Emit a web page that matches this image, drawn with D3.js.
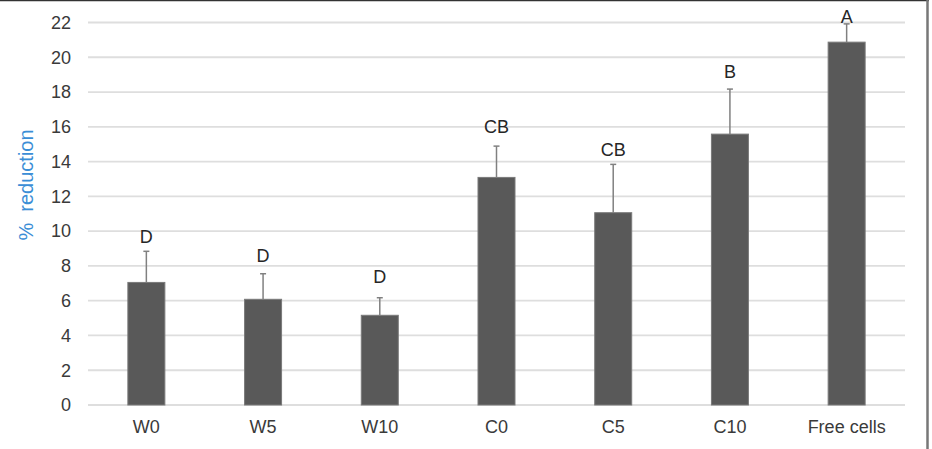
<!DOCTYPE html>
<html>
<head>
<meta charset="utf-8">
<script src="https://cdn.jsdelivr.net/npm/d3@7"></script>
<style>
  html, body { margin: 0; padding: 0; background: #fff; }
  svg { display: block; }
  text { font-family: "Liberation Sans", Arial, sans-serif; }
</style>
</head>
<body>
<div id="chart"></div>
<script>
// data
const categories = ['W0', 'W5', 'W10', 'C0', 'C5', 'C10', 'Free cells'];
const values = [7.05, 6.08, 5.16, 13.09, 11.06, 15.58, 20.87];
const errors = [1.79, 1.47, 1.01, 1.8, 2.78, 2.59, 1.05];
const letters = ['D', 'D', 'D', 'CB', 'CB', 'B', 'A'];
const letterPos = [9.32, 8.25, 7.02, 15.64, 14.32, 18.8, 21.97];
const yTicks = [0, 2, 4, 6, 8, 10, 12, 14, 16, 18, 20, 22];

const width = 932, height = 449;
const svg = d3.select('#chart').append('svg')
    .attr('width', width)
    .attr('height', height);

const x = d3.scaleBand()
    .domain(categories)
    .range([88, 905])
    .paddingInner(0.683)
    .paddingOuter(0.3415);
const y = d3.scaleLinear().domain([0, 22]).range([405, 22.5]);

// gridlines
svg.append('g').selectAll('line')
    .data(yTicks)
    .join('line')
    .attr('x1', 88).attr('x2', 905)
    .attr('y1', d => y(d)).attr('y2', d => y(d))
    .attr('stroke', '#dedede')
    .attr('stroke-width', 1.8);

// y tick labels
svg.append('g').selectAll('text')
    .data(yTicks)
    .join('text')
    .attr('x', 71)
    .attr('y', d => y(d))
    .attr('dy', '0.35em')
    .attr('text-anchor', 'end')
    .attr('font-size', 18)
    .attr('fill', '#3a3a3a')
    .text(d => d);

// bars
const rows = categories.map((c, i) => ({ c, v: values[i], e: errors[i], l: letters[i], lp: letterPos[i] }));
svg.append('g').selectAll('rect')
    .data(rows)
    .join('rect')
    .attr('x', d => x(d.c))
    .attr('y', d => y(d.v))
    .attr('width', x.bandwidth())
    .attr('height', d => y(0) - y(d.v))
    .attr('fill', '#595959')
    .attr('stroke', '#7a7a7a')
    .attr('stroke-width', 1);

// error bars (upper only)
const err = svg.append('g').attr('stroke', '#808080').attr('stroke-width', 1.5);
err.selectAll('.ev')
    .data(rows)
    .join('line')
    .attr('class', 'ev')
    .attr('x1', d => x(d.c) + x.bandwidth() / 2)
    .attr('x2', d => x(d.c) + x.bandwidth() / 2)
    .attr('y1', d => y(d.v))
    .attr('y2', d => y(d.v + d.e));
err.selectAll('.cap')
    .data(rows)
    .join('line')
    .attr('class', 'cap')
    .attr('x1', d => x(d.c) + x.bandwidth() / 2 - 3)
    .attr('x2', d => x(d.c) + x.bandwidth() / 2 + 3)
    .attr('y1', d => y(d.v + d.e))
    .attr('y2', d => y(d.v + d.e));

// letters
svg.append('g').selectAll('text')
    .data(rows)
    .join('text')
    .attr('x', d => x(d.c) + x.bandwidth() / 2)
    .attr('y', d => y(d.lp))
    .attr('text-anchor', 'middle')
    .attr('font-size', 18)
    .attr('fill', '#262626')
    .text(d => d.l);

// x labels
svg.append('g').selectAll('text')
    .data(categories)
    .join('text')
    .attr('x', d => x(d) + x.bandwidth() / 2)
    .attr('y', 433)
    .attr('text-anchor', 'middle')
    .attr('font-size', 18)
    .attr('fill', '#3a3a3a')
    .text(d => d);

// y title
svg.append('text')
    .attr('transform', 'translate(33,185) rotate(-90)')
    .attr('text-anchor', 'middle')
    .attr('font-size', 20)
    .attr('fill', '#3b8ed6')
    .attr('xml:space', 'preserve')
    .style('white-space', 'pre')
    .text('%  reduction');

// frame (top and right edges visible)
svg.append('line').attr('x1', 0).attr('x2', 929).attr('y1', 0.5).attr('y2', 0.5)
    .attr('stroke', '#333').attr('stroke-width', 1.5);
svg.append('line').attr('x1', 927.5).attr('x2', 927.5).attr('y1', 0).attr('y2', height)
    .attr('stroke', '#777').attr('stroke-width', 2.5);
</script>
</body>
</html>
